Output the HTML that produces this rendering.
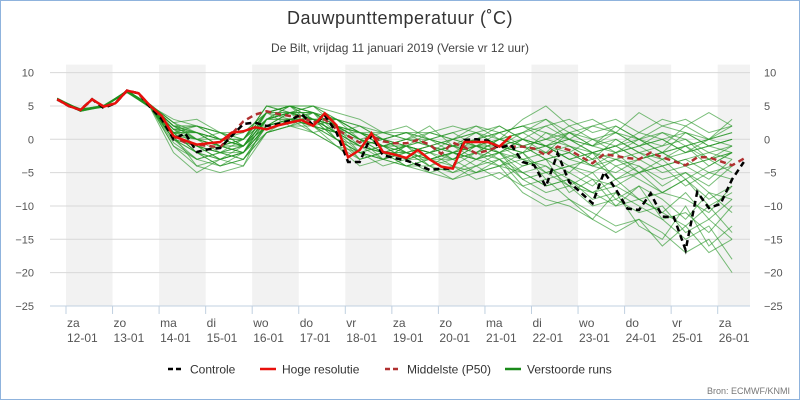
<!DOCTYPE html>
<html><head><meta charset="utf-8">
<style>
html,body{margin:0;padding:0;background:#fff;}
svg{display:block;font-family:"Liberation Sans",sans-serif;}
</style></head>
<body>
<svg id="chart" width="800" height="400" viewBox="0 0 800 400">
<rect x="0.5" y="0.5" width="799" height="399" fill="#fff" stroke="#8fb3dd"/>
<text x="400" y="24" text-anchor="middle" font-size="18" fill="#333" letter-spacing="0.5">Dauwpunttemperatuur (˚C)</text>
<text x="400" y="52" text-anchor="middle" font-size="12" fill="#444">De Bilt, vrijdag 11 januari 2019 (Versie vr 12 uur)</text>
<g id="bands"></g><g id="grid"></g><g id="members"></g><g id="main"></g><g id="axes"></g>
<g id="legend">
<g><line x1="168" y1="369" x2="184" y2="369" stroke="#000" stroke-width="2.5" stroke-dasharray="5,3"/><text x="190" y="373.5" font-size="12" fill="#333">Controle</text></g>
<g><line x1="260" y1="369" x2="276" y2="369" stroke="#e8100c" stroke-width="2.5"/><text x="282" y="373.5" font-size="12" fill="#333">Hoge resolutie</text></g>
<g><line x1="385" y1="369" x2="401" y2="369" stroke="#b03030" stroke-width="2.5" stroke-dasharray="5,3"/><text x="407" y="373.5" font-size="12" fill="#333">Middelste (P50)</text></g>
<g><line x1="505" y1="369" x2="521" y2="369" stroke="#1a8a1a" stroke-width="2.5"/><text x="527" y="373.5" font-size="12" fill="#333">Verstoorde runs</text></g>
</g>
<text x="790" y="394" text-anchor="end" font-size="9" fill="#777">Bron: ECMWF/KNMI</text>
</svg>
<script>
const dayNames=["za","zo","ma","di","wo","do","vr","za","zo","ma","di","wo","do","vr","za"];
const dayDates=["12-01","13-01","14-01","15-01","16-01","17-01","18-01","19-01","20-01","21-01","22-01","23-01","24-01","25-01","26-01"];
const yTicks=[10,5,0,-5,-10,-15,-20,-25];
const hires=[6.0,5.0,4.4,6.0,4.9,5.4,7.3,6.9,5.0,3.5,0.5,-0.2,-0.8,-0.6,-0.4,1.0,1.2,1.8,1.5,2.1,2.5,2.9,2.0,3.9,2.1,-2.7,-1.6,0.9,-1.9,-2.3,-2.8,-1.6,-3.0,-4.1,-4.4,-0.4,-0.4,-0.4,-1.1,0.5];
const controle=[6.0,5.0,4.4,6.0,4.7,5.4,7.3,6.9,4.8,3.0,0.0,0.9,-1.9,-1.5,-1.3,0.5,2.3,2.5,2.0,2.3,2.8,3.8,2.1,3.6,1.0,-3.4,-3.4,0.6,-2.4,-2.8,-3.2,-3.8,-4.6,-4.4,-4.4,-0.1,0.0,-0.2,-1.3,-0.8,-3.4,-3.9,-7.1,-2.1,-6.4,-8.0,-9.6,-4.9,-7.5,-10.4,-10.6,-8.1,-11.6,-11.7,-16.6,-7.9,-10.3,-9.7,-6.0,-3.4];
const p50=[6.0,5.0,4.4,6.0,4.9,5.4,7.3,6.9,5.0,3.3,0.4,-0.5,-0.8,-1.0,-1.2,0.8,2.7,3.7,4.2,3.8,3.5,3.4,2.5,3.0,1.5,0.5,-0.5,0.5,-0.3,-0.6,-0.6,-0.1,-0.8,-2.2,-0.5,-1.2,-2.1,-1.7,-1.0,-1.1,-1.1,-1.4,-2.4,-1.1,-1.6,-2.6,-3.6,-2.2,-2.5,-2.8,-3.0,-2.0,-2.7,-3.3,-3.9,-2.7,-2.7,-3.3,-3.9,-2.9];
const m1=[6,4.4,4.9,7.2,5,1,0,-1,-1,3,4,3,3,1,-1,0,-1,-2,-3,-1,0,-1,-3,-2,-4,-3,-5,-4,-6,-3];
const m2=[6,4.2,5,7.3,5.1,2,2,1,0,4,4,5,3,2,0,1,0,-1,0,1,2,1,0,2,1,0,1,-1,0,2];
const m3=[5.8,4.6,4.8,7.1,4.9,0,-2,-3,-2,2,3,2,1,-2,-3,-1,-4,-5,-3,-2,-5,-7,-6,-9,-8,-10,-12,-11,-14,-10];
const m4=[6.2,4.4,5,7.2,5,1.5,1,0,-1,3,5,4,2,0,-2,-1,-2,0,1,-1,1,3,0,-1,2,0,-2,1,-1,0];
const m5=[6,4.5,4.9,7.1,4.8,-1,-4,-5,-4,1,2,3,0,-3,-2,-4,-3,-2,-4,-6,-4,-3,-8,-6,-10,-7,-9,-12,-8,-11];
const m6=[6.1,4.3,5,7.2,5.2,2.5,3,1,-1,4,5,5,4,3,1,2,0,1,2,0,3,5,2,3,1,4,2,3,1,2];
const m7=[6,4.5,4.9,7.2,5,0.5,-1,-2,-3,2,4,1,2,-1,0,-2,-3,-2,-1,-3,-2,-5,-4,-3,-6,-5,-4,-7,-5,-6];
const m8=[5.9,4.3,5,7.3,5.1,1,0,-2,0,5,4,3,1,1,-1,-2,-1,-3,-2,0,-1,-2,1,-1,0,-2,-1,0,-3,-1];
const m9=[6,4.4,4.9,7.1,4.7,-2,-5,-3,-2,3,3,2,-1,-4,-3,-1,-2,-4,-5,-3,-7,-9,-10,-12,-8,-13,-15,-10,-16,-13];
const m10=[6.1,4.5,5,7.2,5,1.5,2,0,-1,4,2,4,3,0,1,0,2,-1,0,2,0,-1,-2,0,-1,1,0,-2,0,1];
const m11=[6,4.2,4.9,7.2,5,0,-1,-2,-1,2,4,5,2,-2,-1,-3,-2,-1,-2,-4,-3,-4,-6,-8,-7,-9,-8,-6,-10,-8];
const m12=[5.9,4.5,5,7.3,5.1,2,1,0,0,5,5,3,1,2,0,-1,1,0,-1,1,2,0,1,-1,-2,0,2,1,-1,-2];
const m13=[6,4.4,4.9,7.1,4.9,-0.5,-3,-4,-2,1,3,2,0,-2,-4,-3,-5,-6,-4,-2,-6,-8,-7,-5,-9,-11,-10,-14,-12,-15];
const m14=[6,4.3,5,7.2,5,1,2,1,-1,3,4,4,2,1,0,1,-1,-2,0,1,-1,0,-1,-3,-2,-1,-3,-2,-1,0];
const m15=[6.1,4.4,4.9,7.3,5,0.5,0,-1,-2,2,3,3,1,-1,-2,-2,-3,-3,-2,-1,-3,-2,-4,-5,-3,-4,-6,-5,-7,-4];
const m16=[6,4.5,5,7.2,5.1,1.5,1,-1,0,4,5,4,2,0,-1,0,1,2,1,-1,0,2,3,1,2,0,-1,2,0,3];
const m17=[6,4.3,4.9,7.1,4.8,0,-2,-4,-3,1,2,1,-1,-3,-2,-4,-5,-4,-6,-5,-7,-6,-9,-11,-13,-12,-14,-17,-15,-20];
const m18=[5.9,4.4,5,7.2,5.1,1,1,0,0,3,4,2,3,1,-1,-1,0,-2,-1,0,1,-1,0,-2,-1,-3,-2,-1,-3,-2];
const m19=[6,4.5,4.9,7.2,5,1.5,0,-1,-2,3,4,3,0,-1,0,-2,-1,-3,-1,-2,-4,-3,-2,-4,-5,-3,-2,-4,-3,-5];
const m20=[6,4.4,5,7.1,4.9,-1,-3,-2,-1,2,3,4,2,0,-3,-2,-4,-2,-3,-4,-2,-6,-5,-7,-4,-6,-8,-9,-11,-7];
const m21=[6.1,4.3,5,7.2,5.2,2,2,1,1,4,3,3,2,1,1,0,0,-1,1,2,0,-1,1,0,-2,-1,1,0,-2,-1];
const m22=[6,4.5,4.9,7.2,5,0.5,-1,-3,-2,2,4,3,1,-1,-2,-1,-2,-1,-3,-2,-1,-3,-5,-2,-6,-4,-7,-5,-8,-9];
const m23=[6,4.4,5,7.1,5,1,1,-1,-2,4,5,2,1,0,-2,-1,-3,-2,-1,-1,-2,1,-1,-3,0,-2,-3,-1,-4,-2];
const m24=[5.9,4.3,4.9,7.3,4.9,0,-1,-3,-4,3,3,1,-1,-2,-3,-4,-3,-5,-4,-3,-5,-4,-7,-10,-9,-7,-12,-15,-13,-18];
const m25=[6,4.5,5,7.1,4.8,1,-2,-1,0,3,5,4,2,1,0,-1,-2,-1,-2,0,-1,-3,-2,-4,-3,-5,-4,-3,-5,-4];
const m26=[6.1,4.3,4.8,7.3,5.2,2,1,0,1,4,4,3,2,0,-1,0,-1,0,1,0,-1,0,2,0,1,-1,0,1,0,1];
const m27=[5.9,4.4,5,7.2,5,0,-3,-2,-3,2,3,3,1,-1,-3,-2,-3,-4,-2,-3,-6,-5,-7,-8,-6,-9,-11,-8,-12,-9];
const m28=[6,4.2,4.9,7,5.1,2.5,0,1,0,4,5,3,3,1,0,1,0,-1,0,-2,0,-1,-3,-2,-1,-3,-2,-4,-3,-2];
const m29=[6,4.5,5.1,7.2,4.9,1.5,-1,-2,-2,3,4,4,0,-2,-1,-3,-2,-3,-1,-2,-3,-5,-4,-6,-7,-5,-8,-6,-9,-7];
const m30=[6.1,4.4,4.9,7.1,5,3,2,0,-1,4,5,5,3,2,1,1,1,0,2,1,2,3,1,2,3,1,3,2,4,2];
const m31=[6,4.3,5,7.2,5.1,0.5,-4,-3,-2,2,3,2,1,-3,-2,-2,-4,-3,-5,-4,-5,-7,-6,-8,-10,-9,-11,-13,-10,-14];
const m32=[5.9,4.5,4.8,7.3,4.9,2,0,-1,-1,3,4,3,2,0,-1,-1,-2,-1,-1,-2,0,-2,-1,-2,-3,-2,-4,-3,-2,-3];
const m33=[6,4.4,5,7.1,5,1,-2,-3,-1,2,3,4,1,-1,-2,-3,-3,-2,-3,-1,-2,-1,-3,-4,-2,-5,-3,-6,-4,-2];
const m34=[6,4.3,4.9,7.2,5.2,2.5,1,-1,0,5,4,4,3,1,0,-1,0,1,-1,0,1,2,0,-1,1,-1,0,-2,-1,0];
const m35=[6.1,4.5,5,7,4.8,1,-2,-4,-3,1,2,2,0,-2,-3,-4,-4,-6,-5,-4,-8,-10,-9,-12,-14,-12,-16,-13,-17,-15];
const m36=[6,4.4,5.1,7.2,5,2,0,0,-1,3,4,3,2,0,-1,-2,-1,0,-1,-1,-2,-1,0,-2,-1,0,-2,-1,0,-1];
const members=[m1,m2,m3,m4,m5,m6,m7,m8,m9,m10,m11,m12,m13,m14,m15,m16,m17,m18,m19,m20,m21,m22,m23,m24,m25,m26,m27,m28,m29,m30,m31,m32,m33,m34,m35,m36];

const NS="http://www.w3.org/2000/svg";
const X0=50,X1=750,DAY0=66,DAYW=46.55,T0=-0.19;
const yScale=v=>139.3-6.667*v;
const xDay=d=>DAY0+d*DAYW;
const xStep=(i,stepDays)=>xDay(T0+i*stepDays);
function mk(tag,attrs,parent){const e=document.createElementNS(NS,tag);for(const k in attrs)e.setAttribute(k,attrs[k]);parent.appendChild(e);return e;}
const bands=document.getElementById('bands'),grid=document.getElementById('grid'),axes=document.getElementById('axes');
dayNames.forEach((n,d)=>{
  if(d%2===0){const r=mk('rect',{x:xDay(d),y:yScale(10)-8,width:Math.min(DAYW,X1-xDay(d)),height:yScale(-25)-yScale(10)+8,fill:'#f2f2f2'},bands);
    
    }
  const t=mk('line',{x1:xDay(d),x2:xDay(d),y1:yScale(-25),y2:yScale(-25)+8,stroke:'#c0d0e0'},axes);
  
  
  const l1=mk('text',{x:xDay(d)+1,y:yScale(-25)+21,'font-size':12,fill:'#555'},axes);l1.textContent=n;
  
  
  const l2=mk('text',{x:xDay(d)+1,y:yScale(-25)+36,'font-size':12,fill:'#555'},axes);l2.textContent=dayDates[d];
  
  
});
yTicks.forEach(v=>{
  const g=mk('line',{x1:X0,x2:X1,y1:yScale(v),y2:yScale(v),stroke:v===-25?'#c0d0e0':'#d8d8d8'},grid);
  
  
  const a=mk('text',{x:34,y:yScale(v)+4,'text-anchor':'end','font-size':11,fill:'#555'},axes);a.textContent=String(v).replace('-','−');
  
  
  const b=mk('text',{x:764,y:yScale(v)+4,'font-size':11,fill:'#555'},axes);b.textContent=String(v).replace('-','−');
  
  
});
function pts(arr,step){return arr.map((v,i)=>xStep(i,step).toFixed(1)+','+yScale(v).toFixed(1)).join(' ');}
const mg=document.getElementById('members');
members.forEach(m=>{
  const p=mk('polyline',{points:pts(m,0.5),fill:'none',stroke:'#1f921f','stroke-width':1,'stroke-opacity':0.6},mg);
  
  
});
const main=document.getElementById('main');
const pp=mk('polyline',{points:pts(p50,0.25),fill:'none',stroke:'#b03030','stroke-width':2.5,'stroke-dasharray':'6,4'},main);


const pc=mk('polyline',{points:pts(controle,0.25),fill:'none',stroke:'#000','stroke-width':2.5,'stroke-dasharray':'6,4'},main);


const ph=mk('polyline',{points:pts(hires,0.25),fill:'none',stroke:'#e8100c','stroke-width':2.5},main);


</script>
</body></html>
